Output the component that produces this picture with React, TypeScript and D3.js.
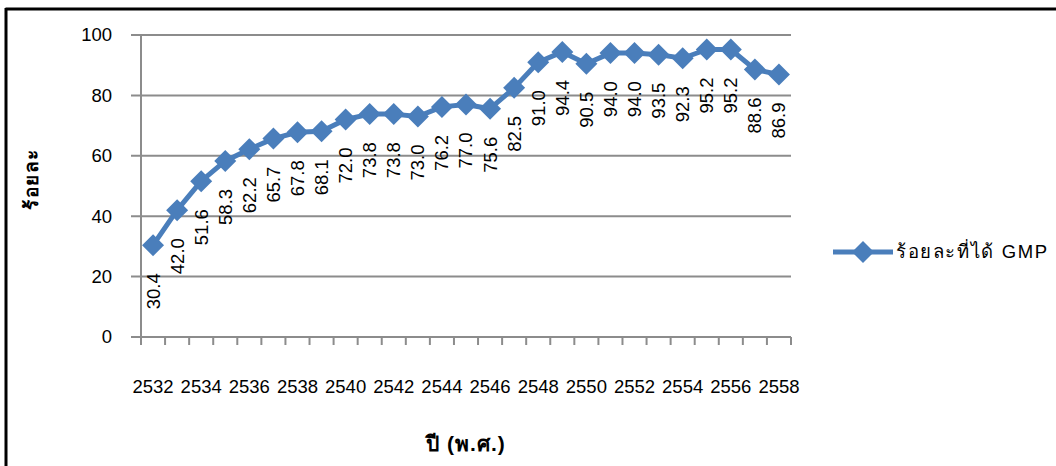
import React from "react";
import * as d3 from "d3";

const years: number[] = [2532,2533,2534,2535,2536,2537,2538,2539,2540,2541,2542,2543,2544,2545,2546,2547,2548,2549,2550,2551,2552,2553,2554,2555,2556,2557,2558];
const values: number[] = [30.4,42.0,51.6,58.3,62.2,65.7,67.8,68.1,72.0,73.8,73.8,73.0,76.2,77.0,75.6,82.5,91.0,94.4,90.5,94.0,94.0,93.5,92.3,95.2,95.2,88.6,86.9];
const yTicks: number[] = [0,20,40,60,80,100];
const xTickLabels: number[] = [2532,2534,2536,2538,2540,2542,2544,2546,2548,2550,2552,2554,2556,2558];
const seriesName = "ร้อยละที่ได้ GMP";
const yTitle = "ร้อยละ";
const xTitle = "ปี (พ.ศ.)";

const W = 1056, H = 466;
const left = 141, right = 791, top = 35, bottom = 337;
const FONT = "'Liberation Sans', Arial, sans-serif";
const BLUE = "#4A7EBB";
const GRID = "#8c8c8c";

export default function App() {
  const x = d3.scaleBand<number>().domain(years).range([left, right]).paddingInner(0).paddingOuter(0);
  const y = d3.scaleLinear().domain([0, 100]).range([bottom, top]);
  const cx = (yr: number) => (x(yr) as number) + x.bandwidth() / 2;
  const line = d3.line<number>().x((_, i) => cx(years[i])).y(v => y(v));
  const diamond = (px: number, py: number, r: number) =>
    `M${px},${py - r}L${px + r},${py}L${px},${py + r}L${px - r},${py}Z`;
  const boundaries = d3.range(years.length + 1).map(i => left + i * x.bandwidth());

  return (
    <svg width={W} height={H} style={{ position: "absolute", left: 0, top: 0, background: "#fff" }} fontFamily={FONT}>
      <rect x={0} y={0} width={W} height={H} fill="#fff" />
      {/* frame */}
      <line x1={5.5} y1={9} x2={W} y2={9} stroke="#000" strokeWidth={3} />
      <line x1={6} y1={8} x2={6} y2={H} stroke="#000" strokeWidth={3} />
      {/* gridlines */}
      {yTicks.map(t => (
        <g key={t}>
          <line x1={left - 10} x2={right} y1={y(t)} y2={y(t)} stroke={GRID} strokeWidth={2} />
          <text x={112} y={y(t)} dy="0.35em" textAnchor="end" fontSize={18.5} fill="#000">{t}</text>
        </g>
      ))}
      <line x1={left} x2={left} y1={top} y2={bottom + 8} stroke={GRID} strokeWidth={2} />
      {boundaries.map((b, i) => (
        <line key={i} x1={b} x2={b} y1={bottom} y2={bottom + 8} stroke={GRID} strokeWidth={2} />
      ))}
      {xTickLabels.map(t => (
        <text key={t} x={cx(t)} y={393} textAnchor="middle" fontSize={18.5} fill="#000">{t}</text>
      ))}
      {/* series */}
      <path d={line(values) || ""} fill="none" stroke={BLUE} strokeWidth={5} strokeLinejoin="round" />
      {values.map((v, i) => (
        <path key={i} d={diamond(cx(years[i]), y(v), 11)} fill={BLUE} />
      ))}
      {values.map((v, i) => (
        <text key={i} transform={`translate(${cx(years[i])},${y(v) + 28}) rotate(-90)`} dy="0.35em"
          textAnchor="end" fontSize={18.5} fill="#000">{v.toFixed(1)}</text>
      ))}
      {/* axis titles */}
      <text transform={`translate(31,179) rotate(-90)`} dy="0.35em" textAnchor="middle" fontSize={19} fontWeight="bold" letterSpacing={1.5} fill="#000">{yTitle}</text>
      <text x={466} y={451} textAnchor="middle" fontSize={21} fontWeight="bold" letterSpacing={1} fill="#000">{xTitle}</text>
      {/* legend */}
      <line x1={833} x2={893} y1={252} y2={252} stroke={BLUE} strokeWidth={5} />
      <path d={diamond(863, 252, 11)} fill={BLUE} />
      <text x={896} y={252} dy="0.35em" fontSize={18.5} textLength={151} lengthAdjust="spacing" fill="#000">{seriesName}</text>
    </svg>
  );
}
